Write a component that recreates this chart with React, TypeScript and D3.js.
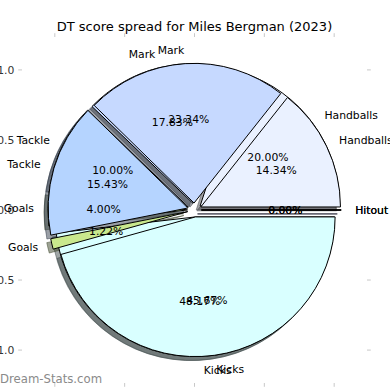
import React from 'react';
import * as d3 from 'd3';

const categories = ['Hitout', 'Handballs', 'Mark', 'Tackle', 'Goals', 'Kicks'];
const seriesA = [0, 20.0, 17.83, 10.0, 4.0, 48.17];
const seriesB = [0, 14.34, 23.34, 15.43, 1.22, 45.67];
const sliceColors = ['#d0d0ff', '#eaf1ff', '#c6d9ff', '#b5d4ff', '#c9e88d', '#d9ffff'];
const xTicks = [-1, -0.5, 0, 0.5, 1];
const yTicks = [-1, -0.5, 0, 0.5, 1];
const titleText = 'DT score spread for Miles Bergman (2023)';
const watermarkText = 'Dream-Stats.com';
const explode = 0.05;

const FONT = 'DejaVu Sans, sans-serif';

export default function App() {
  const W = 390, H = 390;
  const x = d3.scaleLinear().domain([-1.235, 1.235]).range([22, 367]);
  const y = d3.scaleLinear().domain([-1.235, 1.235]).range([383, 37]);
  const R = x(1) - x(0);
  const cx = x(0), cy = y(0);
  const pie = d3.pie<number>().sort(null).value((d) => d)
    .startAngle(Math.PI / 2).endAngle(Math.PI / 2 - 2 * Math.PI);
  const arc = d3.arc<any>().innerRadius(0).outerRadius(R);
  const shOff = 3.9;
  const fs = 10.8;

  const build = (vals: number[]) =>
    pie(vals).map((p, i) => {
      const mid = (p.startAngle + p.endAngle) / 2;
      const ux = Math.sin(mid), uy = -Math.cos(mid);
      return { p, i, ux, uy, dx: ux * explode * R, dy: uy * explode * R, pct: vals[i] };
    });
  const pies = [build(seriesA), build(seriesB)];

  const shadowColor = (c: string) => {
    const r = d3.rgb(c);
    return d3.rgb(r.r * 0.3, r.g * 0.3, r.b * 0.3).formatHex();
  };

  return (
    <svg width={W} height={H} style={{ position: 'absolute', left: 0, top: 0, background: '#fff' }}>
      <rect x={0} y={0} width={W} height={H} fill="#fff" />
      {/* shadows */}
      {pies.map((ws, k) =>
        ws.map((w) => (
          <path key={`s${k}-${w.i}`}
            d={arc(w.p) as string}
            transform={`translate(${cx + w.dx - shOff},${cy + w.dy + shOff})`}
            fill={shadowColor(sliceColors[w.i])} fillOpacity={0.5}
            stroke={shadowColor(sliceColors[w.i])} strokeOpacity={0.5} strokeWidth={1} />
        ))
      )}
      {/* wedges */}
      {pies.map((ws, k) =>
        ws.map((w) => (
          <path key={`w${k}-${w.i}`}
            d={arc(w.p) as string}
            transform={`translate(${cx + w.dx},${cy + w.dy})`}
            fill={sliceColors[w.i]} stroke="#000" strokeWidth={1} />
        ))
      )}
      {/* ticks */}
      {xTicks.map((t) => (
        <g key={`xt${t}`} stroke="#c8c8c8" strokeWidth={1}>
          <line x1={x(t)} x2={x(t)} y1={33.2} y2={37} />
          <line x1={x(t)} x2={x(t)} y1={383} y2={386.8} />
        </g>
      ))}
      {xTicks.map((t) => (
        <text key={`xl${t}`} x={x(t)} y={390.6 + fs * 0.76} fontSize={fs} fontFamily={FONT}
          textAnchor="middle" fill="#333">{t < 0 ? `\u2212${Math.abs(t).toFixed(1)}` : t.toFixed(1)}</text>
      ))}
      {yTicks.map((t) => (
        <g key={`yt${t}`} stroke="#c8c8c8" strokeWidth={1}>
          <line x1={18.2} x2={22} y1={y(t)} y2={y(t)} />
          <line x1={367} x2={370.8} y1={y(t)} y2={y(t)} />
        </g>
      ))}
      {yTicks.map((t) => (
        <text key={`yl${t}`} x={14.4} y={y(t) + fs * 0.36} fontSize={fs} fontFamily={FONT}
          textAnchor="end" fill="#333">{t < 0 ? `\u2212${Math.abs(t).toFixed(1)}` : t.toFixed(1)}</text>
      ))}
      {/* texts */}
      {pies.map((ws, k) =>
        ws.map((w) => {
          const lx = cx + w.dx + 1.1 * R * w.ux;
          const ly = cy + w.dy + 1.1 * R * w.uy;
          const px = cx + w.dx + 0.6 * R * w.ux;
          const py = cy + w.dy + 0.6 * R * w.uy;
          return (
            <g key={`t${k}-${w.i}`} fontFamily={FONT} fontSize={fs} fill="#000">
              <text x={lx} y={ly + fs * 0.36} textAnchor={w.ux > 0 ? 'start' : 'end'}>{categories[w.i]}</text>
              <text x={px} y={py + fs * 0.36} textAnchor="middle">{w.pct.toFixed(2) + '%'}</text>
            </g>
          );
        })
      )}
      <text x={cx} y={31} textAnchor="middle" fontFamily={FONT} fontSize={13} fill="#000">{titleText}</text>
      <text x={0} y={383} fontFamily={FONT} fontSize={11.7} fill="#8a8a8a">{watermarkText}</text>
    </svg>
  );
}
